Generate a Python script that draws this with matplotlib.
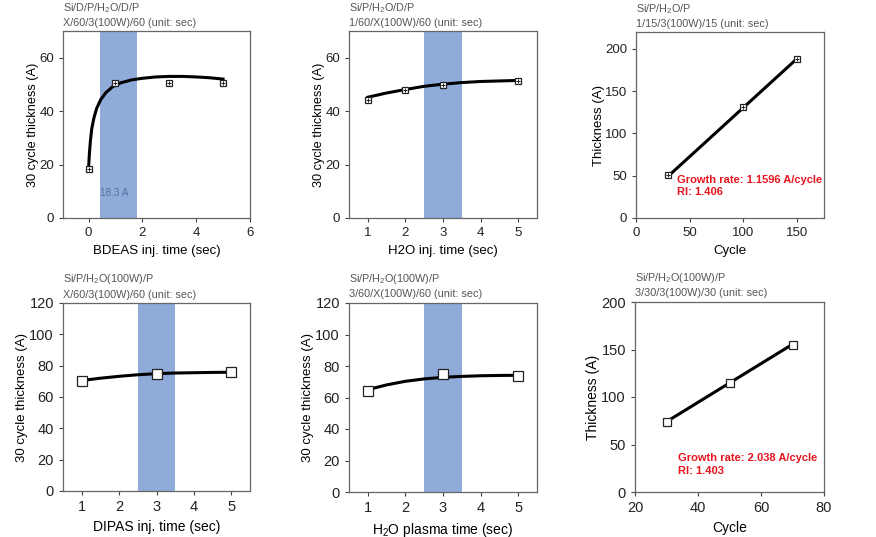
import matplotlib
matplotlib.use("Agg")
import matplotlib.pyplot as plt

plt.rcParams['font.family'] = ['Liberation Sans', 'DejaVu Sans']
plt.rcParams['mathtext.fontset'] = 'custom'
plt.rcParams['mathtext.rm'] = 'Liberation Sans'
plt.rcParams['mathtext.it'] = 'Liberation Sans'

# ---- data ----
# (a) BDEAS injection time
bdeas_t = [0, 1, 3, 5]
bdeas_thk = [18.3, 50.5, 50.5, 50.5]
bdeas_fit_t = [0, 0.03, 0.07, 0.12, 0.2, 0.3, 0.45, 0.65, 0.9, 1.2, 1.6, 2.0, 2.5, 3.0, 3.5, 4.0, 4.5, 5.0]
bdeas_fit_y = [18.5, 24, 29, 33.5, 37.5, 41, 44.3, 47, 49.2, 50.6, 51.7, 52.3, 52.8, 53.0, 53.0, 52.8, 52.5, 52.0]

# (b) H2O injection time
h2o_t = [1, 2, 3, 5]
h2o_thk = [44.2, 48.0, 49.8, 51.3]
h2o_fit_t = [1, 1.5, 2, 2.5, 3, 3.5, 4, 4.5, 5]
h2o_fit_y = [45.2, 46.8, 48.1, 49.3, 50.1, 50.7, 51.1, 51.3, 51.5]

# (c) cycles, 1/15/3/15
cyc_a = [30, 100, 150]
thk_a = [50.5, 131, 188.5]
fit_a_x = [30, 150]
fit_a_y = [49.5, 188.6]

# (d) DIPAS injection time
dipas_t = [1, 3, 5]
dipas_thk = [70.0, 74.8, 75.8]
dipas_fit_t = [1, 1.5, 2, 2.5, 3, 3.5, 4, 4.5, 5]
dipas_fit_y = [70.5, 72.0, 73.2, 74.2, 74.9, 75.3, 75.5, 75.7, 75.8]

# (e) H2O plasma time
plasma_t = [1, 3, 5]
plasma_thk = [64.1, 75.2, 73.5]
plasma_fit_t = [1, 1.5, 2, 2.5, 3, 3.5, 4, 4.5, 5]
plasma_fit_y = [65.0, 68.0, 70.3, 71.8, 72.8, 73.4, 73.8, 74.0, 74.1]

# (f) cycles, 3/30/3/30
cyc_b = [30, 50, 70]
thk_b = [73.3, 114.5, 154.5]
fit_b_x = [30, 70]
fit_b_y = [74.0, 155.5]

band_color = '#8FABD9'
red = '#E8141E'
W, H = 876, 537

fig = plt.figure(figsize=(W / 100, H / 100), dpi=100)


def make_ax(l, r, t, b):
    ax = fig.add_axes([l / W, 1 - b / H, (r - l) / W, (b - t) / H])
    for s in ax.spines.values():
        s.set_color('#666666')
        s.set_linewidth(0.9)
    ax.tick_params(length=3, width=0.8, color='#444444', labelcolor='#222222')
    return ax


def header(ax, l1, l2):
    ax.text(0, 1.125, l1, transform=ax.transAxes, fontsize=7.8, color='#555555', ha='left', va='center')
    ax.text(0, 1.045, l2, transform=ax.transAxes, fontsize=7.8, color='#555555', ha='left', va='center')


def open_sq(ax, x, y, ms, cross=True):
    ax.plot(x, y, 's', ms=ms, mfc='white', mec='#222222', mew=0.9, zorder=5)
    if cross:
        ax.plot(x, y, '+', ms=ms * 0.55, mec='#222222', mew=0.7, zorder=6)


# --- top row ---
ax1 = make_ax(63, 250, 31, 218)
ax1.axvspan(0.43, 1.8, color=band_color, lw=0, zorder=0)
ax1.plot(bdeas_fit_t, bdeas_fit_y, color='black', lw=2.2, zorder=3)
open_sq(ax1, bdeas_t, bdeas_thk, 5)
ax1.text(0.97, 9.4, '18.3 A', color='#5570A0', fontsize=7.2, ha='center', va='center')
ax1.set_xlim(-0.95, 6)
ax1.set_ylim(0, 70)
ax1.set_xticks([0, 2, 4, 6])
ax1.set_yticks([0, 20, 40, 60])
ax1.set_xlabel('BDEAS inj. time (sec)', fontsize=9.5)
ax1.set_ylabel('30 cycle thickness (A)', fontsize=9.2, labelpad=0)
header(ax1, 'Si/D/P/H$_2$O/D/P', 'X/60/3(100W)/60 (unit: sec)')

ax2 = make_ax(349, 537, 31, 218)
ax2.axvspan(2.5, 3.5, color=band_color, lw=0, zorder=0)
ax2.plot(h2o_fit_t, h2o_fit_y, color='black', lw=2.2, zorder=3)
open_sq(ax2, h2o_t, h2o_thk, 5)
ax2.set_xlim(0.5, 5.5)
ax2.set_ylim(0, 70)
ax2.set_xticks([1, 2, 3, 4, 5])
ax2.set_yticks([0, 20, 40, 60])
ax2.set_xlabel('H2O inj. time (sec)', fontsize=9.5)
ax2.set_ylabel('30 cycle thickness (A)', fontsize=9.2, labelpad=0)
header(ax2, 'Si/P/H$_2$O/D/P', '1/60/X(100W)/60 (unit: sec)')

ax3 = make_ax(636, 824, 32, 218)
ax3.plot(fit_a_x, fit_a_y, color='black', lw=2.2, zorder=3)
open_sq(ax3, cyc_a, thk_a, 5)
ax3.text(38, 45, 'Growth rate: 1.1596 A/cycle', color=red, fontsize=8, fontweight='bold', va='center')
ax3.text(38, 31, 'RI: 1.406', color=red, fontsize=8, fontweight='bold', va='center')
ax3.set_xlim(0, 175)
ax3.set_ylim(0, 220)
ax3.set_xticks([0, 50, 100, 150])
ax3.set_yticks([0, 50, 100, 150, 200])
ax3.set_xlabel('Cycle', fontsize=9.5)
ax3.set_ylabel('Thickness (A)', fontsize=9.5, labelpad=0)
header(ax3, 'Si/P/H$_2$O/P', '1/15/3(100W)/15 (unit: sec)')

# --- bottom row ---
ax4 = make_ax(63, 250, 303, 491)
ax4.axvspan(2.5, 3.5, color=band_color, lw=0, zorder=0)
ax4.plot(dipas_fit_t, dipas_fit_y, color='black', lw=2.2, zorder=3)
open_sq(ax4, dipas_t, dipas_thk, 6.5, cross=False)
ax4.set_xlim(0.5, 5.5)
ax4.set_ylim(0, 120)
ax4.set_xticks([1, 2, 3, 4, 5])
ax4.set_yticks([0, 20, 40, 60, 80, 100, 120])
ax4.set_xlabel('DIPAS inj. time (sec)', fontsize=10)
ax4.set_ylabel('30 cycle thickness (A)', fontsize=9.5, labelpad=1)
header(ax4, 'Si/P/H$_2$O(100W)/P', 'X/60/3(100W)/60 (unit: sec)')

ax5 = make_ax(349, 537, 303, 492)
ax5.axvspan(2.5, 3.5, color=band_color, lw=0, zorder=0)
ax5.plot(plasma_fit_t, plasma_fit_y, color='black', lw=2.2, zorder=3)
open_sq(ax5, plasma_t, plasma_thk, 6.5, cross=False)
ax5.set_xlim(0.5, 5.5)
ax5.set_ylim(0, 120)
ax5.set_xticks([1, 2, 3, 4, 5])
ax5.set_yticks([0, 20, 40, 60, 80, 100, 120])
ax5.set_xlabel('H$_2$O plasma time (sec)', fontsize=10)
ax5.set_ylabel('30 cycle thickness (A)', fontsize=9.5, labelpad=1)
header(ax5, 'Si/P/H$_2$O(100W)/P', '3/60/X(100W)/60 (unit: sec)')

ax6 = make_ax(635, 824, 302, 492)
ax6.plot(fit_b_x, fit_b_y, color='black', lw=2.2, zorder=3)
open_sq(ax6, cyc_b, thk_b, 5.5, cross=False)
ax6.text(33.8, 36, 'Growth rate: 2.038 A/cycle', color=red, fontsize=8, fontweight='bold', va='center')
ax6.text(33.8, 22, 'RI: 1.403', color=red, fontsize=8, fontweight='bold', va='center')
ax6.set_xlim(20, 80)
ax6.set_ylim(0, 200)
ax6.set_xticks([20, 40, 60, 80])
ax6.set_yticks([0, 50, 100, 150, 200])
ax6.set_xlabel('Cycle', fontsize=10)
ax6.set_ylabel('Thickness (A)', fontsize=10, labelpad=1)
header(ax6, 'Si/P/H$_2$O(100W)/P', '3/30/3(100W)/30 (unit: sec)')

for ax in (ax1, ax2, ax3):
    ax.tick_params(labelsize=9.5)
for ax in (ax4, ax5, ax6):
    ax.tick_params(labelsize=10.5)

fig.savefig('out.png', dpi=100, facecolor='white')
